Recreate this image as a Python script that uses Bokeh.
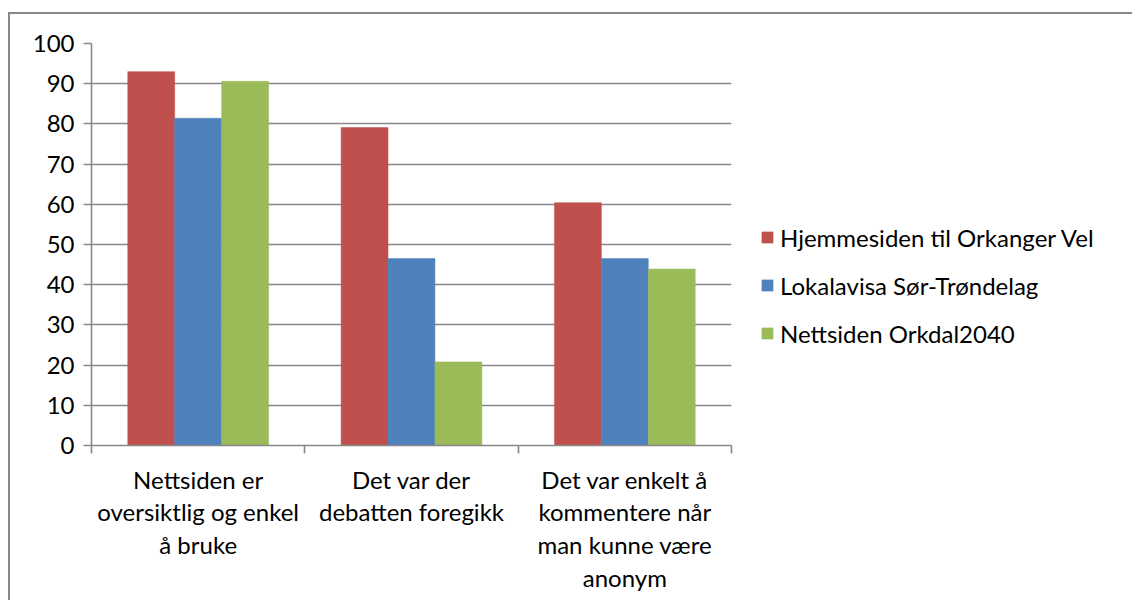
from bokeh.plotting import figure
from bokeh.models import ColumnDataSource, Range1d, FixedTicker, Legend, LegendItem
from bokeh.embed import file_html
from bokeh.resources import INLINE

categories = ["Nettsiden er\noversiktlig og enkel\nå bruke",
              "Det var der\ndebatten foregikk",
              "Det var enkelt å\nkommentere når\nman kunne være\nanonym"]
series_names = ["Hjemmesiden til Orkanger Vel", "Lokalavisa Sør-Trøndelag", "Nettsiden Orkdal2040"]
hjemmesiden = [93.0, 79.1, 60.4]
lokalavisa = [81.4, 46.5, 46.5]
orkdal2040 = [90.6, 20.8, 43.9]
colors = ["#C0504D", "#4F81BD", "#9BBB59"]
y_ticks = list(range(0, 101, 10))

FONT = "Lato"
FS = "24px"
GRAY = "#888888"

p = figure(frame_width=640, frame_height=402, output_backend="svg", toolbar_location=None,
           x_range=Range1d(0, 3), y_range=Range1d(0, 100),
           min_border_left=81, min_border_right=0, min_border_top=29, min_border_bottom=155)
p.styles = {"border-left": "2px solid #888888", "border-top": "2px solid #888888",
            "margin-top": "12px", "margin-left": "8px"}
p.outline_line_color = None
p.background_fill_color = "white"
p.border_fill_color = "white"

# y axis
p.yaxis.ticker = FixedTicker(ticks=y_ticks)
p.yaxis.axis_line_color = GRAY
p.yaxis.axis_line_width = 1.6
p.yaxis.major_tick_line_color = GRAY
p.yaxis.major_tick_line_width = 1.6
p.yaxis.major_tick_out = 8
p.yaxis.major_tick_in = 0
p.yaxis.minor_tick_line_color = None
p.yaxis.major_label_standoff = 9
p.yaxis.major_label_text_font = FONT
p.yaxis.major_label_text_font_size = FS
p.yaxis.major_label_text_color = "#000000"
p.ygrid.grid_line_color = GRAY
p.ygrid.grid_line_width = 1.6
p.xgrid.grid_line_color = None

# x axis
centers = [i + 0.5 for i in range(len(categories))]
p.xaxis.ticker = FixedTicker(ticks=centers, minor_ticks=[0, 1, 2, 3])
p.xaxis.major_label_overrides = {c: lab for c, lab in zip(centers, categories)}
p.xaxis.axis_line_color = GRAY
p.xaxis.axis_line_width = 1.6
p.xaxis.major_tick_line_color = None
p.xaxis.major_tick_out = 0
p.xaxis.major_tick_in = 0
p.xaxis.minor_tick_line_color = GRAY
p.xaxis.minor_tick_line_width = 1.6
p.xaxis.minor_tick_out = 8
p.xaxis.minor_tick_in = 0
p.xaxis.major_label_standoff = 11
p.xaxis.major_label_text_font = FONT
p.xaxis.major_label_text_font_size = FS
p.xaxis.major_label_text_color = "#000000"
p.xaxis.major_label_text_line_height = 1.13
p.xaxis.major_label_text_align = "center"

bw = 0.22
offsets = [-bw, 0.0, bw]
renderers = []
for vals, col, off in zip([hjemmesiden, lokalavisa, orkdal2040], colors, offsets):
    src = ColumnDataSource(dict(x=[c + off for c in centers], top=vals))
    r = p.vbar(x="x", top="top", width=bw, bottom=0, source=src,
               fill_color=col, line_color=col, line_width=0.5)
    renderers.append(r)

legend = Legend(items=[LegendItem(label=n, renderers=[r]) for n, r in zip(series_names, renderers)],
                location=(29, 97), orientation="vertical",
                glyph_width=14, glyph_height=14, label_height=30, label_standoff=6,
                spacing=18, padding=0, margin=0,
                label_text_font=FONT, label_text_font_size=FS, label_text_color="#000000",
                border_line_color=None, background_fill_alpha=0)
p.add_layout(legend, "right")

open("out.html", "w").write(file_html(p, INLINE))
